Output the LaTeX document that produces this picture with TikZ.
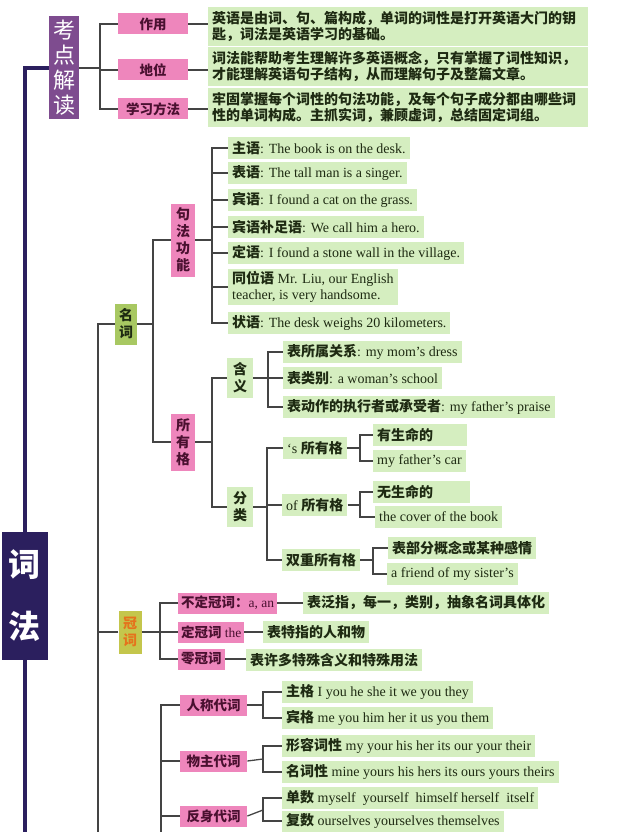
\documentclass[tikz,border=0pt]{standalone}
\usepackage{fontspec}
\setmainfont{Liberation Serif}
\newfontfamily\zh{Noto Sans CJK SC}
\usepackage{xcolor}
\usepackage{tikz}

\definecolor{kdpurple}{HTML}{7E4C8F}
\definecolor{cfnavy}{HTML}{2B1F5E}
\definecolor{pk}{HTML}{EE86BC}
\definecolor{pktext}{HTML}{4A1030}
\definecolor{lf}{HTML}{D5EEC0}
\definecolor{lftext}{HTML}{1E2A12}
\definecolor{mcgreen}{HTML}{A8C862}
\definecolor{gcfill}{HTML}{C4C64C}
\definecolor{gctext}{HTML}{E5731C}
\definecolor{ln}{HTML}{444444}
\newcommand{\zi}[1]{{\zh\bfseries #1}}

\begin{document}
\begin{tikzpicture}[x=1pt, y=-1pt,
    % ---- styles ----
    P/.style={fill=pk, text=pktext, minimum height=21pt, inner sep=3pt,
              font=\zh\bfseries\fontsize{13.5}{15}\selectfont},
    L/.style={fill=lf, text=lftext, anchor=west, align=left,
              minimum height=22pt, inner xsep=4pt, inner ysep=2pt,
              font=\fontsize{14}{16}\selectfont},
    LZ/.style={L, font=\zh\bfseries\fontsize{14}{16}\selectfont},
    T/.style={fill=lf, text=lftext, anchor=west, align=left,
              text width=372pt, inner sep=4pt,
              font=\zh\bfseries\fontsize{14}{16}\selectfont},
    V/.style={fill=#1, inner sep=0pt, align=center, minimum width=24pt,
              font=\zh\bfseries\fontsize{14}{17}\selectfont},
    A/.style={draw=ln, line width=1.3pt},
    N/.style={draw=cfnavy, line width=4pt},
]
\useasboundingbox (0,0) rectangle (629,832);
\clip (0,0) rectangle (629,832);

% ===== Top: 考点解读 =====
\node[V=kdpurple, text=white, minimum width=30pt, minimum height=103pt,
      font=\zh\fontsize{22}{25}\selectfont] (kd) at (64,68) {考\\点\\解\\读};
\node[P, minimum width=70pt] (zy) at (153,24)  {作用};
\node[P, minimum width=70pt] (dw) at (153,70)  {地位};
\node[P, minimum width=70pt] (xf) at (153,109) {学习方法};

\node[T] (t1) at (208,26.5)  {英语是由词、句、篇构成，单词的词性是打开英语大门的钥\\匙，词法是英语学习的基础。};
\node[T] (t2) at (208,66.5)  {词法能帮助考生理解许多英语概念，只有掌握了词性知识，\\才能理解英语句子结构，从而理解句子及整篇文章。};
\node[T] (t3) at (208,107.5) {牢固掌握每个词性的句法功能，及每个句子成分都由哪些词\\性的单词构成。主抓实词，兼顾虚词，总结固定词组。};

\coordinate (kdv) at (100,68);
\draw[A] (kd.east) -- (kdv);
\foreach \c in {zy,dw,xf}
    \draw[A] (kdv) |- (\c.west);
\foreach \a/\b in {zy/t1, dw/t2, xf/t3}
    \draw[A] (\a.east) -- (\a.east -| \b.west);

% ===== 词法 =====
\node[V=cfnavy, text=white, minimum width=46pt, minimum height=128pt,
      font=\zh\bfseries\fontsize{32}{62}\selectfont] (cf) at (25,596) {词\\法};
\coordinate (cfend) at (25,840);
\draw[N] (kd.west) -| (cf.north);
\draw[N] (cf.south) -- (cfend);

% ===== 名词 =====
\node[V=mcgreen, text=lftext, minimum width=22pt, minimum height=41pt] (mc) at (126,324) {名\\词};
\coordinate (mcv) at (98,324);
\coordinate (mcend) at (98,840);
\draw[A] (mc.west) -- (mcv) -- (mcend);

\node[V=pk, text=pktext, minimum height=73pt] (jf)  at (183,240) {句\\法\\功\\能};
\node[V=pk, text=pktext, minimum height=57pt] (syg) at (183,442) {所\\有\\格};
\coordinate (mcf) at (153,324);
\draw[A] (mc.east) -- (mcf);
\foreach \c in {jf,syg}
    \draw[A] (mcf) |- (\c.west);

% 句法功能
\node[L] (zhu)    at (228,148) {\zi{主语}: The book is on the desk.};
\node[L] (biao)   at (228,173) {\zi{表语}: The tall man is a singer.};
\node[L] (bin)    at (228,200) {\zi{宾语}: I found a cat on the grass.};
\node[L] (bu)     at (228,227) {\zi{宾语补足语}: We call him a hero.};
\node[L] (ding)   at (228,253) {\zi{定语}: I found a stone wall in the village.};
\node[L] (tong)   at (228,287) {\zi{同位语} Mr. Liu, our English\\teacher, is very handsome.};
\node[L] (zhuang) at (228,323) {\zi{状语}: The desk weighs 20 kilometers.};
\coordinate (jfv) at (212,240);
\draw[A] (jf.east) -- (jfv);
\foreach \c in {zhu,biao,bin,bu,ding,tong,zhuang}
    \draw[A] (jfv) |- (\c.west);

% 所有格
\node[V=lf, text=lftext, minimum width=26pt, minimum height=40pt] (hy) at (240,378) {含\\义};
\node[V=lf, text=lftext, minimum width=26pt, minimum height=40pt] (fl) at (240,507) {分\\类};
\coordinate (sygv) at (212,442);
\draw[A] (syg.east) -- (sygv);
\foreach \c in {hy,fl}
    \draw[A] (sygv) |- (\c.west);

\node[L] (hs) at (283,352) {\zi{表所属关系}: my mom’s dress};
\node[L] (hl) at (283,378) {\zi{表类别}: a woman’s school};
\node[L] (hd) at (283,407) {\zi{表动作的执行者或承受者}: my father’s praise};
\coordinate (hyv) at (268,378);
\draw[A] (hy.east) -- (hyv);
\foreach \c in {hs,hl,hd}
    \draw[A] (hyv) |- (\c.west);

\node[L] (sg) at (283,448) {‘s \zi{所有格}};
\node[L] (of) at (282,505) {of \zi{所有格}};
\node[L] (sc) at (282,560) {\zi{双重所有格}};
\coordinate (flv) at (267,507);
\draw[A] (fl.east) -- (flv);
\foreach \c in {sg,of,sc}
    \draw[A] (flv) |- (\c.west);

\node[L, text width=86pt] (sg1) at (373,435) {\zi{有生命的}};
\node[L] (sg2) at (373,461) {my father’s car};
\node[L, text width=89pt] (of1) at (373,492) {\zi{无生命的}};
\node[L] (of2) at (375,517) {the cover of the book};
\node[L] (sc1) at (388,548) {\zi{表部分概念或某种感情}};
\node[L] (sc2) at (387,574) {a friend of my sister’s};
\coordinate (sgv) at (360,448);
\coordinate (ofv) at (360,505);
\coordinate (scv) at (373,560);
\foreach \p/\a/\b in {sg/sg1/sg2, of/of1/of2, sc/sc1/sc2} {
    \draw[A] (\p.east) -- (\p v);
    \draw[A] (\p v) |- (\a.west);
    \draw[A] (\p v) |- (\b.west);
}

% ===== 冠词 =====
\node[V=gcfill, text=gctext, minimum width=23pt, minimum height=43pt] (gc) at (130,632) {冠\\词};
\draw[A] (gc.west) -- (gc.west -| mcv);
\coordinate (gcv) at (160,632);
\draw[A] (gc.east) -- (gcv);

\node[P, anchor=west] (bd) at (178,603) {不定冠词：{\rmfamily\mdseries a, an}};
\node[P, anchor=west] (dd) at (178,632) {定冠词 {\rmfamily\mdseries the}};
\node[P, anchor=west] (ld) at (178,659) {零冠词};
\foreach \c in {bd,dd,ld}
    \draw[A] (gcv) |- (\c.west);

\node[LZ] (bdt) at (303,603) {表泛指，每一，类别，抽象名词具体化};
\node[LZ] (ddt) at (263,632) {表特指的人和物};
\node[LZ] (ldt) at (246,660) {表许多特殊含义和特殊用法};
\foreach \a/\b in {bd/bdt, dd/ddt, ld/ldt}
    \draw[A] (\a.east) -- (\a.east -| \b.west);

% ===== 代词 =====
\coordinate (dcend) at (161,840);
\node[P, anchor=west, minimum width=67pt] (rc) at (180,705) {人称代词};
\node[P, anchor=west, minimum width=67pt] (wz) at (180,761) {物主代词};
\node[P, anchor=west, minimum width=67pt] (fs) at (180,816) {反身代词};
\draw[A] (rc.west) -| (dcend);
\foreach \c in {wz,fs}
    \draw[A] (\c.west) -- (\c.west -| dcend);

\node[L] (zg) at (282,692) {\zi{主格} I you he she it we you they};
\node[L] (bg) at (282,718) {\zi{宾格} me you him her it us you them};
\node[L] (xr) at (282,746) {\zi{形容词性} my your his her its our your their};
\node[L] (mx) at (282,772) {\zi{名词性} mine yours his hers its ours yours theirs};
\node[L] (ds) at (282,798) {\zi{单数} myself\ \ yourself\ \ himself herself\ \ itself};
\node[L, minimum height=21pt] (fh) at (282,821) {\zi{复数} ourselves yourselves themselves};
\coordinate (rcv) at (263,705);
\coordinate (wzv) at (263,759);
\coordinate (fsv) at (263,810);
\foreach \p/\a/\b in {rc/zg/bg, wz/xr/mx, fs/ds/fh} {
    \draw[A] (\p.east) -- (\p v);
    \draw[A] (\p v) |- (\a.west);
    \draw[A] (\p v) |- (\b.west);
}

\end{tikzpicture}
\end{document}
